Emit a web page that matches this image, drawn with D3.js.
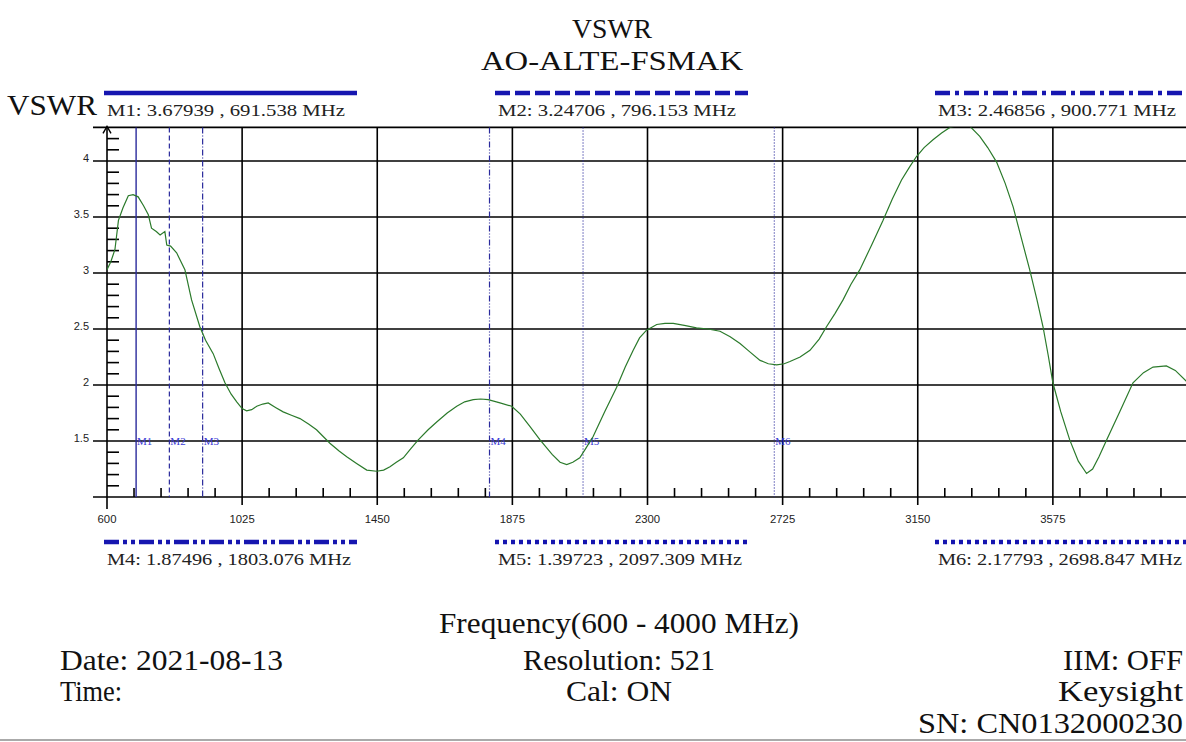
<!DOCTYPE html>
<html>
<head>
<meta charset="utf-8">
<script src="https://cdn.jsdelivr.net/npm/d3@7"></script>
<style>
html, body { margin: 0; padding: 0; background: #fff; overflow: hidden; }
svg { display: block; }
</style>
</head>
<body>
<svg id="chart" width="1186" height="742"></svg>
<script>
// trace (MHz, VSWR)
const freqs = [600, 612, 625, 636, 650, 667, 682, 698, 715, 730, 740, 755, 767, 782, 788, 800, 819, 845, 866, 892,
  910, 934, 952, 971, 990, 1008, 1025, 1039, 1055, 1071, 1090, 1107, 1130, 1154, 1180, 1207, 1235, 1259, 1280, 1301,
  1330, 1354, 1385, 1417, 1448, 1470, 1490, 1510, 1532, 1555, 1579, 1610, 1637, 1670, 1700, 1725, 1752, 1775, 1799, 1836,
  1873, 1900, 1930, 1962, 2000, 2025, 2046, 2065, 2087, 2105, 2129, 2165, 2203, 2230, 2255, 2275, 2297, 2329, 2355, 2381,
  2420, 2454, 2490, 2528, 2560, 2591, 2620, 2654, 2680, 2706, 2730, 2748, 2780, 2811, 2840, 2863, 2890, 2915, 2940, 2968,
  3005, 3041, 3070, 3099, 3125, 3146, 3170, 3198, 3225, 3251, 3280, 3314, 3345, 3370, 3398, 3425, 3450, 3475, 3502, 3525,
  3544, 3560, 3575, 3600, 3628, 3655, 3681, 3700, 3720, 3744, 3785, 3827, 3860, 3890, 3932, 3960, 4000];
const vswr = [3.03, 3.10, 3.21, 3.47, 3.58, 3.69, 3.70, 3.68, 3.60, 3.52, 3.40, 3.37, 3.34, 3.37, 3.25, 3.24, 3.18, 3.03, 2.76, 2.52,
  2.40, 2.28, 2.15, 2.02, 1.92, 1.85, 1.79, 1.77, 1.78, 1.81, 1.83, 1.84, 1.80, 1.76, 1.73, 1.70, 1.65, 1.60, 1.54, 1.48,
  1.41, 1.36, 1.30, 1.24, 1.23, 1.24, 1.27, 1.31, 1.35, 1.43, 1.51, 1.60, 1.67, 1.75, 1.81, 1.85, 1.87, 1.875, 1.87, 1.84,
  1.81, 1.74, 1.63, 1.51, 1.38, 1.31, 1.29, 1.31, 1.35, 1.43, 1.54, 1.76, 1.98, 2.16, 2.31, 2.42, 2.49, 2.54, 2.55, 2.55,
  2.53, 2.51, 2.50, 2.48, 2.43, 2.37, 2.30, 2.22, 2.19, 2.18, 2.19, 2.21, 2.25, 2.31, 2.41, 2.52, 2.64, 2.76, 2.90, 3.03,
  3.25, 3.47, 3.66, 3.83, 3.95, 4.04, 4.12, 4.19, 4.25, 4.30, 4.32, 4.31, 4.22, 4.12, 3.99, 3.80, 3.59, 3.32, 3.03, 2.76,
  2.52, 2.27, 2.02, 1.76, 1.51, 1.32, 1.21, 1.25, 1.36, 1.51, 1.76, 2.02, 2.11, 2.16, 2.17, 2.13, 2.02];

const markerNames = ['M1', 'M2', 'M3', 'M4', 'M5', 'M6'];
const markerFreqs = [691.538, 796.153, 900.771, 1803.076, 2097.309, 2698.847];
const markerValues = [3.67939, 3.24706, 2.46856, 1.87496, 1.39723, 2.17793];

const xTicks = [600, 1025, 1450, 1875, 2300, 2725, 3150, 3575];
const yTicks = [1.5, 2, 2.5, 3, 3.5, 4];

const titleLines = ['VSWR', 'AO-ALTE-FSMAK'];
const footLeft = ['Date: 2021-08-13', 'Time:'];
const footMid = ['Frequency(600 - 4000 MHz)', 'Resolution: 521', 'Cal: ON'];
const footRight = ['IIM: OFF', 'Keysight', 'SN: CN0132000230'];

const svg = d3.select('#chart');
const serif = '"Liberation Serif"';
const sans = '"Liberation Sans"';
const x = d3.scaleLinear().domain([600, 4000]).range([107, 1188]);
const y = d3.scaleLinear().domain([1, 4.3]).range([497, 127.4]);
const yTop = y(4.3), yBot = y(1);

// marker line styles: thin in plot, thick in the legend
const thinDash = [null, '5,3', '6,2,1,2', '6,2,1,2,1,2', '1,2', '1,2'];
const thickDash = [null, '15,5', '15,5,4,5', '15,4,4,4,4,4', '4,4', '4,4'];

// titles
svg.selectAll('.title').data(titleLines).join('text')
    .attr('x', 612).attr('y', (d, i) => 38 + i * 32)
    .attr('font-family', serif).attr('text-anchor', 'middle').attr('font-size', 28).attr('fill', '#111')
    .attr('textLength', (d, i) => i ? 262 : 80).attr('lengthAdjust', 'spacingAndGlyphs')
    .text(d => d);
svg.append('text').attr('x', 7).attr('y', 115).attr('font-family', serif).attr('font-size', 29).attr('fill', '#111')
    .attr('textLength', 90).attr('lengthAdjust', 'spacingAndGlyphs').text('VSWR');

// grid
const grid = svg.append('g').attr('stroke', '#000').attr('stroke-width', 1.6);
grid.selectAll('.hg').data(yTicks.concat([4.3])).join('line')
    .attr('x1', 93).attr('x2', 1186).attr('y1', d => y(d)).attr('y2', d => y(d));
grid.selectAll('.vg').data(xTicks.slice(1)).join('line')
    .attr('x1', d => x(d)).attr('x2', d => x(d)).attr('y1', yTop).attr('y2', yBot + 8);

// axes lines
grid.append('line').attr('x1', 93).attr('x2', 1186).attr('y1', yBot).attr('y2', yBot);
grid.append('line').attr('x1', 107).attr('x2', 107).attr('y1', yTop).attr('y2', yBot + 12);
svg.append('path').attr('d', `M103,${yTop + 6}L107,${yTop - 1}L111,${yTop + 6}`).attr('fill', 'none')
    .attr('stroke', '#000').attr('stroke-width', 1.4);

// minor ticks
const minorY = d3.range(11, 43).map(v => v / 10).filter(v => Math.round(v * 10) % 5 !== 0);
grid.selectAll('.my').data(minorY).join('line')
    .attr('x1', 107).attr('x2', 119).attr('y1', d => y(d)).attr('y2', d => y(d));
const minorX = d3.range(685, 4000, 85).filter(v => (v - 600) % 425 !== 0);
grid.selectAll('.mx').data(minorX).join('line')
    .attr('x1', d => x(d)).attr('x2', d => x(d)).attr('y1', yBot).attr('y2', yBot - 9);

// tick labels
svg.selectAll('.xl').data(xTicks).join('text')
    .attr('x', d => x(d)).attr('y', 523).attr('text-anchor', 'middle')
    .attr('font-family', sans).attr('font-size', 11).attr('fill', '#222')
    .attr('textLength', d => String(d).length * 6.3).attr('lengthAdjust', 'spacingAndGlyphs')
    .text(d => d);
svg.selectAll('.yl').data(yTicks).join('text')
    .attr('x', 89).attr('y', d => y(d) + 1).attr('text-anchor', 'end')
    .attr('font-family', sans).attr('font-size', 11).attr('fill', '#222')
    .text(d => d);

// markers
const mk = svg.append('g');
mk.selectAll('line').data(markerFreqs).join('line')
    .attr('x1', d => x(d)).attr('x2', d => x(d)).attr('y1', yTop).attr('y2', yBot)
    .attr('stroke', '#2a2a9c').attr('stroke-width', (d, i) => i === 0 ? 1.4 : 1.2)
    .attr('stroke-dasharray', (d, i) => thinDash[i]);
mk.selectAll('text').data(markerFreqs).join('text')
    .attr('x', d => x(d) + 1).attr('y', y(1.5) + 4)
    .attr('font-family', serif).attr('font-size', 11).attr('fill', '#3a3ad6')
    .text((d, i) => markerNames[i]);

// trace
svg.append('clipPath').attr('id', 'plotclip').append('rect')
    .attr('x', 107).attr('y', yTop).attr('width', 1090).attr('height', yBot - yTop);
svg.append('path').datum(freqs.map((f, i) => [f, vswr[i]]))
    .attr('clip-path', 'url(#plotclip)')
    .attr('fill', 'none').attr('stroke', '#2b7a2b').attr('stroke-width', 1.2)
    .attr('d', d3.line().x(d => x(d[0])).y(d => y(d[1])));

// marker legend
const legCols = [[104, 357], [495, 748], [935, 1188]];
const legend = svg.append('g');
markerNames.forEach((name, i) => {
    const [a, b] = legCols[i % 3];
    const row = i < 3 ? 93 : 542;
    legend.append('line').attr('x1', a).attr('x2', b).attr('y1', row).attr('y2', row)
        .attr('stroke', '#1616b0').attr('stroke-width', 4.5)
        .attr('stroke-dasharray', thickDash[i]);
    legend.append('text').attr('x', a + 3).attr('y', row + 23)
        .attr('font-family', serif).attr('font-size', 17).attr('fill', '#222')
        .attr('textLength', i < 3 ? 238 : 244).attr('lengthAdjust', 'spacingAndGlyphs')
        .text(`${name}: ${markerValues[i].toFixed(5)} , ${markerFreqs[i].toFixed(3)} MHz`);
});

// footer
const foot = svg.append('g');
const put = (t, xp, yp, anchor, w) => foot.append('text').attr('x', xp).attr('y', yp)
    .attr('font-family', serif).attr('font-size', 30).attr('fill', '#111')
    .attr('text-anchor', anchor).attr('textLength', w).attr('lengthAdjust', 'spacingAndGlyphs').text(t);
[360, 192, 106].forEach((w, i) => put(footMid[i], 619, [633, 670, 701][i], 'middle', w));
[223, 62].forEach((w, i) => put(footLeft[i], 60, [670, 701][i], 'start', w));
[120, 125, 265].forEach((w, i) => put(footRight[i], 1183, [670, 701, 733][i], 'end', w));
svg.append('line').attr('x1', 0).attr('x2', 1186).attr('y1', 740).attr('y2', 740)
    .attr('stroke', '#aaa').attr('stroke-width', 2);
</script>
</body>
</html>
